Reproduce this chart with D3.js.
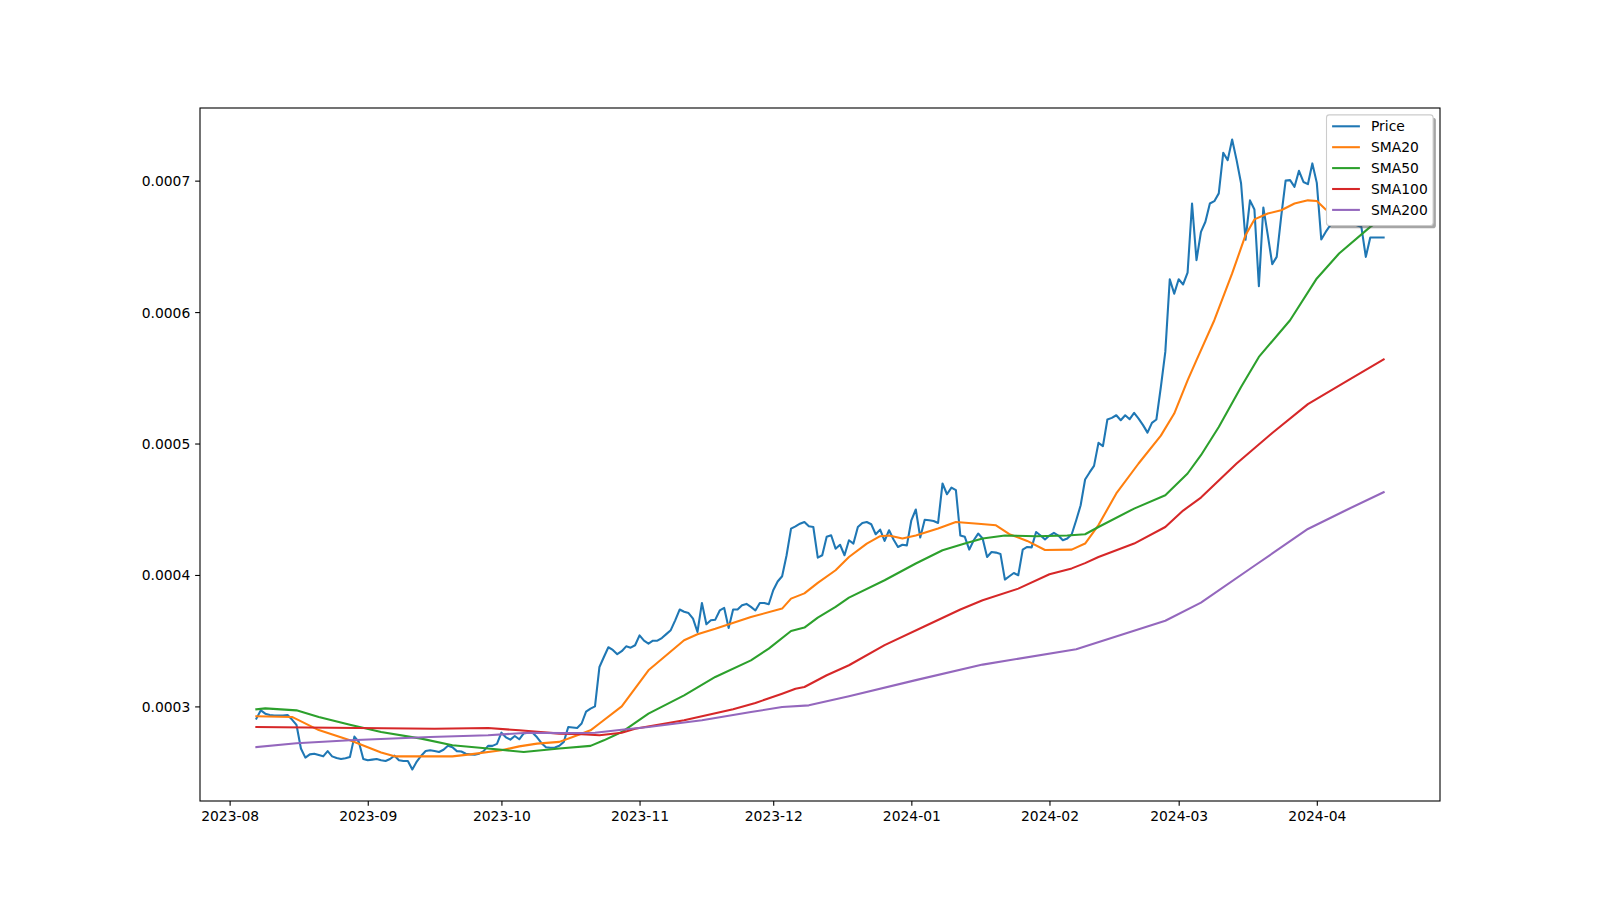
<!DOCTYPE html>
<html><head><meta charset="utf-8">
<script src="https://cdn.jsdelivr.net/npm/d3@7"></script>
<style>body{margin:0;background:#fff} text{font-family:"DejaVu Sans",sans-serif;fill:#000}</style>
</head><body><svg id="c" width="1600" height="900"></svg>
<script>
// ---------- data ----------
const startDate = "2023-08-07";           // first daily observation
const priceValues = [
2.907e-4,2.97e-4,2.945e-4,2.935e-4,2.93e-4,2.93e-4,2.93e-4,2.935e-4,2.90e-4,2.86e-4,
2.68e-4,2.61e-4,2.635e-4,2.64e-4,2.63e-4,2.62e-4,2.66e-4,2.62e-4,2.607e-4,2.60e-4,
2.605e-4,2.615e-4,2.77e-4,2.73e-4,2.60e-4,2.59e-4,2.595e-4,2.60e-4,2.59e-4,2.585e-4,
2.60e-4,2.625e-4,2.59e-4,2.585e-4,2.585e-4,2.52e-4,2.58e-4,2.625e-4,2.66e-4,2.666e-4,
2.66e-4,2.653e-4,2.67e-4,2.70e-4,2.69e-4,2.66e-4,2.657e-4,2.64e-4,2.635e-4,2.632e-4,
2.64e-4,2.66e-4,2.70e-4,2.70e-4,2.715e-4,2.80e-4,2.765e-4,2.747e-4,2.775e-4,2.75e-4,
2.795e-4,2.80e-4,2.80e-4,2.765e-4,2.72e-4,2.69e-4,2.685e-4,2.688e-4,2.70e-4,2.73e-4,
2.843e-4,2.84e-4,2.836e-4,2.87e-4,2.96e-4,2.983e-4,3.0e-4,3.30e-4,3.376e-4,3.45e-4,
3.43e-4,3.397e-4,3.42e-4,3.457e-4,3.447e-4,3.465e-4,3.54e-4,3.50e-4,3.478e-4,3.50e-4,
3.50e-4,3.52e-4,3.55e-4,3.58e-4,3.655e-4,3.737e-4,3.72e-4,3.71e-4,3.668e-4,3.566e-4,
3.787e-4,3.625e-4,3.655e-4,3.66e-4,3.73e-4,3.749e-4,3.597e-4,3.737e-4,3.737e-4,3.77e-4,
3.78e-4,3.757e-4,3.73e-4,3.787e-4,3.787e-4,3.777e-4,3.884e-4,3.95e-4,3.99e-4,4.15e-4,
4.353e-4,4.37e-4,4.39e-4,4.403e-4,4.37e-4,4.365e-4,4.132e-4,4.15e-4,4.29e-4,4.302e-4,
4.20e-4,4.23e-4,4.15e-4,4.264e-4,4.239e-4,4.365e-4,4.396e-4,4.403e-4,4.386e-4,4.31e-4,
4.345e-4,4.259e-4,4.34e-4,4.27e-4,4.213e-4,4.23e-4,4.225e-4,4.416e-4,4.498e-4,4.285e-4,
4.42e-4,4.416e-4,4.41e-4,4.396e-4,4.696e-4,4.614e-4,4.665e-4,4.645e-4,4.30e-4,4.29e-4,
4.193e-4,4.264e-4,4.315e-4,4.277e-4,4.137e-4,4.175e-4,4.17e-4,4.16e-4,3.965e-4,3.99e-4,
4.015e-4,3.998e-4,4.193e-4,4.213e-4,4.21e-4,4.327e-4,4.30e-4,4.27e-4,4.30e-4,4.32e-4,
4.30e-4,4.264e-4,4.277e-4,4.31e-4,4.416e-4,4.53e-4,4.726e-4,4.78e-4,4.83e-4,5.005e-4,
4.98e-4,5.183e-4,5.195e-4,5.215e-4,5.177e-4,5.215e-4,5.185e-4,5.233e-4,5.19e-4,5.14e-4,
5.083e-4,5.157e-4,5.183e-4,5.43e-4,5.697e-4,6.25e-4,6.14e-4,6.25e-4,6.21e-4,6.30e-4,
6.826e-4,6.395e-4,6.61e-4,6.687e-4,6.826e-4,6.844e-4,6.903e-4,7.212e-4,7.156e-4,7.313e-4,
7.156e-4,6.98e-4,6.55e-4,6.85e-4,6.78e-4,6.197e-4,6.796e-4,6.585e-4,6.365e-4,6.42e-4,
6.724e-4,7.0e-4,7.004e-4,6.953e-4,7.075e-4,6.99e-4,6.973e-4,7.131e-4,6.983e-4,6.552e-4,
6.61e-4,6.66e-4,6.75e-4,6.80e-4,6.72e-4,6.78e-4,6.70e-4,6.66e-4,6.648e-4,6.42e-4,
6.567e-4,6.567e-4,6.567e-4,6.567e-4
];
// moving averages, read at their visible bends (day = days after startDate)
const sma20Days   = [0,8,14,21,28,31,44,48,55,59,63,68,71,75,77,82,88,96,99,103,111,118,120,123,126,130,133,137,140,142,145,148,153,157,162,166,169,173,177,183,186,189,193,198,203,206,209,211,215,219,222,224,227,230,233,236,238,240,245,253];
const sma20Values = [2.925e-4,2.92e-4,2.82e-4,2.742e-4,2.65e-4,2.62e-4,2.62e-4,2.635e-4,2.666e-4,2.696e-4,2.717e-4,2.73e-4,2.767e-4,2.818e-4,2.87e-4,3.0e-4,3.275e-4,3.503e-4,3.549e-4,3.59e-4,3.68e-4,3.744e-4,3.82e-4,3.86e-4,3.94e-4,4.036e-4,4.137e-4,4.239e-4,4.295e-4,4.30e-4,4.277e-4,4.30e-4,4.353e-4,4.403e-4,4.39e-4,4.378e-4,4.31e-4,4.259e-4,4.19e-4,4.193e-4,4.239e-4,4.38e-4,4.62e-4,4.848e-4,5.06e-4,5.228e-4,5.48e-4,5.634e-4,5.938e-4,6.294e-4,6.585e-4,6.705e-4,6.75e-4,6.775e-4,6.826e-4,6.85e-4,6.845e-4,6.78e-4,6.73e-4,6.70e-4];
const sma50Days   = [0,2,9,14,21,28,37,44,52,60,68,75,78,82,88,96,103,111,115,120,123,126,130,133,141,148,154,159,163,168,175,182,186,189,197,204,209,212,216,221,225,232,238,243,250,253];
const sma50Values = [2.978e-4,2.985e-4,2.97e-4,2.92e-4,2.86e-4,2.805e-4,2.755e-4,2.704e-4,2.68e-4,2.653e-4,2.68e-4,2.70e-4,2.742e-4,2.805e-4,2.945e-4,3.084e-4,3.224e-4,3.35e-4,3.44e-4,3.574e-4,3.60e-4,3.676e-4,3.757e-4,3.828e-4,3.96e-4,4.087e-4,4.188e-4,4.239e-4,4.277e-4,4.30e-4,4.295e-4,4.30e-4,4.31e-4,4.365e-4,4.505e-4,4.607e-4,4.772e-4,4.911e-4,5.126e-4,5.43e-4,5.659e-4,5.938e-4,6.256e-4,6.446e-4,6.648e-4,6.72e-4];
const sma100Days   = [0,40,52,59,68,73,77,82,85,96,107,112,118,121,123,128,133,141,150,158,163,171,178,183,186,189,197,204,208,212,220,228,236,245,253];
const sma100Values = [2.843e-4,2.83e-4,2.836e-4,2.818e-4,2.793e-4,2.788e-4,2.78e-4,2.80e-4,2.83e-4,2.894e-4,2.978e-4,3.026e-4,3.097e-4,3.135e-4,3.148e-4,3.237e-4,3.313e-4,3.466e-4,3.61e-4,3.737e-4,3.807e-4,3.896e-4,4.005e-4,4.05e-4,4.09e-4,4.137e-4,4.239e-4,4.365e-4,4.49e-4,4.589e-4,4.848e-4,5.08e-4,5.30e-4,5.48e-4,5.64e-4];
const sma200Days   = [0,9,21,39,52,61,69,76,82,88,100,111,118,124,133,148,163,184,204,212,224,236,245,253];
const sma200Values = [2.69e-4,2.72e-4,2.742e-4,2.767e-4,2.78e-4,2.80e-4,2.797e-4,2.80e-4,2.823e-4,2.843e-4,2.894e-4,2.957e-4,2.995e-4,3.008e-4,3.077e-4,3.20e-4,3.318e-4,3.435e-4,3.652e-4,3.79e-4,4.07e-4,4.35e-4,4.50e-4,4.63e-4];
const seriesNames  = ["Price","SMA20","SMA50","SMA100","SMA200"];
const seriesColors = ["#1f77b4","#ff7f0e","#2ca02c","#d62728","#9467bd"];
const xTickLabels = ["2023-08","2023-09","2023-10","2023-11","2023-12","2024-01","2024-02","2024-03","2024-04"];
const yTickValues = [0.0003,0.0004,0.0005,0.0006,0.0007];

// ---------- layout ----------
const W = 1600, H = 900;
const L = 200, R = 1440, T = 108, B = 801;
const FS = 13.89, LW = 2.08;
const DAY = 86400000;
const t0 = d3.utcParse("%Y-%m-%d")(startDate);
const dayDate = d => new Date(t0.getTime() + d*DAY);

const priceData = priceValues.map((v,i)=>({t:dayDate(i), v}));
const smaSeries = [[sma20Days,sma20Values],[sma50Days,sma50Values],[sma100Days,sma100Values],[sma200Days,sma200Values]]
  .map(([ds,vs]) => vs.map((v,i)=>({t:dayDate(ds[i]), v})));
const allSeries = [priceData, ...smaSeries];

const tExt = d3.extent(allSeries.flat(), d=>d.t);
const vExt = d3.extent(allSeries.flat(), d=>d.v);
const tPad = (tExt[1]-tExt[0])*0.05, vPad = (vExt[1]-vExt[0])*0.05;
const x = d3.scaleUtc().domain([new Date(+tExt[0]-tPad), new Date(+tExt[1]+tPad)]).range([L,R]);
const y = d3.scaleLinear().domain([vExt[0]-vPad, vExt[1]+vPad]).range([B,T]);

const svg = d3.select("#c");
svg.append("rect").attr("width",W).attr("height",H).attr("fill","#fff");
svg.append("defs").append("clipPath").attr("id","clip")
   .append("rect").attr("x",L).attr("y",T).attr("width",R-L).attr("height",B-T);

// lines
const line = d3.line().x(d=>x(d.t)).y(d=>y(d.v));
const g = svg.append("g").attr("clip-path","url(#clip)");
allSeries.forEach((s,i)=>{
  g.append("path").datum(s).attr("d",line).attr("fill","none")
   .attr("stroke",seriesColors[i]).attr("stroke-width",LW)
   .attr("stroke-linejoin","round").attr("stroke-linecap","square");
});

// axes
const xTicks = xTickLabels.map(s=>d3.utcParse("%Y-%m")(s));
const xAxis = d3.axisBottom(x).tickValues(xTicks).tickFormat(d3.utcFormat("%Y-%m"))
  .tickSize(4.86).tickPadding(4.86);
const yAxis = d3.axisLeft(y).tickValues(yTickValues).tickFormat(d3.format(".4f"))
  .tickSize(4.86).tickPadding(4.86);
const gx = svg.append("g").attr("transform",`translate(0,${B})`).call(xAxis);
const gy = svg.append("g").attr("transform",`translate(${L},0)`).call(yAxis);
[gx,gy].forEach(ax=>{
  ax.select(".domain").remove();
  ax.selectAll(".tick line").attr("stroke","#000").attr("stroke-width",1.1);
  ax.selectAll(".tick text").attr("font-size",FS).attr("font-family","DejaVu Sans").attr("fill","#000");
});
gx.selectAll(".tick text").attr("dy","0.76em");
gy.selectAll(".tick text").attr("dy","0.36em");

// frame
svg.append("rect").attr("x",L).attr("y",T).attr("width",R-L).attr("height",B-T)
  .attr("fill","none").attr("stroke","#000").attr("stroke-width",1.1);

// legend
const lx = 1326.5, ly = 114.9, lw = 106.6, lh = 110.6;
const lg = svg.append("g");
lg.append("rect").attr("x",lx+2.78).attr("y",ly+2.78).attr("width",lw).attr("height",lh)
  .attr("rx",2.8).attr("fill","#4d4d4d").attr("fill-opacity",0.5);
lg.append("rect").attr("x",lx).attr("y",ly).attr("width",lw).attr("height",lh)
  .attr("rx",2.8).attr("fill","#fff").attr("stroke","#cccccc").attr("stroke-width",1.1);
seriesNames.forEach((n,i)=>{
  const cy = 126.3 + i*20.9;
  lg.append("line").attr("x1",lx+5.6).attr("x2",lx+5.6+27.8).attr("y1",cy).attr("y2",cy)
    .attr("stroke",seriesColors[i]).attr("stroke-width",LW);
  lg.append("text").attr("x",lx+5.6+27.8+11.1).attr("y",cy).attr("dy","0.36em")
    .attr("font-size",FS).text(n);
});
</script></body></html>
